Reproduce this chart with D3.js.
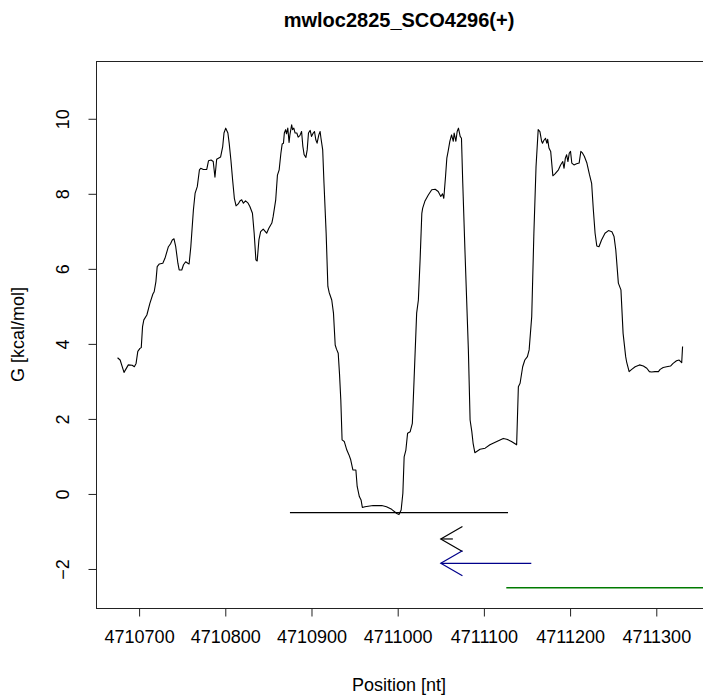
<!DOCTYPE html>
<html>
<head>
<meta charset="utf-8">
<script src="https://cdn.jsdelivr.net/npm/d3@7"></script>
<style>
  html, body { margin: 0; padding: 0; background: #fff; }
  svg { display: block; font-family: "Liberation Sans", Arial, Helvetica, sans-serif; }
</style>
</head>
<body>
<svg id="chart" width="703" height="695"></svg>
<script>
// ---- data ----
const chartTitle = "mwloc2825_SCO4296(+)";
const xLabel = "Position [nt]";
const yLabel = "G [kcal/mol]";

const positions = [
  4710675,4710678,4710682.5,4710687.5,4710692,4710694.5,4710696.5,4710698.5,4710701,4710702.5,
  4710704,4710705.5,4710709,4710712.5,4710716,4710717.5,4710719.5,4710721,4710723.5,4710727.5,
  4710730,4710734,4710736.5,4710738.5,4710740.5,4710742.5,4710745,4710746.5,4710749.5,4710751.5,
  4710754,4710756.5,4710758,4710760,4710763,4710765,4710767.5,4710770,4710771.5,4710774.5,
  4710778.5,4710780.5,4710783.5,4710786,4710788,4710790,4710792,4710794.5,4710797,4710798.5,
  4710800.5,4710803,4710804.5,4710806.5,4710808.5,4710810.5,4710812.5,4710815,4710817,4710819,
  4710821,4710823.5,4710826.5,4710828.5,4710831.5,4710833.5,4710835.5,4710837,4710839,4710841,
  4710844,4710848,4710850.5,4710854,4710855.5,4710858.5,4710860.5,4710862.5,4710864.5,4710866,
  4710867.5,4710868.5,4710870,4710871,4710872.5,4710874,4710875,4710877,4710878,4710879.5,
  4710881,4710883,4710884.5,4710886.5,4710888.5,4710890,4710891.5,4710893.5,4710895,4710896.5,
  4710898.5,4710900,4710902,4710903.5,4710905,4710906.5,4710908.5,4710910,4710911,4710913,
  4710914.5,4710917,4710919,4710920.5,4710923.5,4710925.5,4710927.5,4710929,4710931,4710932.5,
  4710934,4710935.5,4710938,4710941,4710943.5,4710945.5,4710948,4710951.5,4710953,4710955.5,
  4710957.5,4710959,4710962,4710971.5,4710981.5,4710987,4710993,4710999,4711001.5,4711004,
  4711006,4711007.5,4711009.5,4711011.5,4711014.5,4711017,4711019,4711022,4711024,4711026,
  4711028,4711029,4711031.5,4711035.5,4711039.5,4711043.5,4711047,4711050,4711052,4711053.5,
  4711055.5,4711057,4711058.5,4711060.5,4711062.5,4711064.5,4711065.5,4711067.5,4711069,4711070.5,
  4711072.5,4711074,4711075.5,4711078,4711082,4711084,4711086,4711087.5,4711089.5,4711095.5,
  4711101.5,4711107,4711115,4711122.5,4711126.5,4711132,4711138,4711140,4711142,4711145,
  4711147.5,4711150.5,4711152.5,4711155.5,4711158,4711160.5,4711163,4711165,4711167,4711168,
  4711169.5,4711171.5,4711173,4711174,4711175.5,4711177.5,4711180,4711182.5,4711186.5,4711189,
  4711191.5,4711193,4711194.5,4711196,4711197.5,4711199,4711200.5,4711202,4711204.5,4711207.5,
  4711210.5,4711212.5,4711214,4711216.5,4711219.5,4711222.5,4711225,4711227,4711229,4711231,
  4711233.5,4711236.5,4711240.5,4711244.5,4711248.5,4711251,4711253,4711256,4711259,4711261.5,
  4711264.5,4711265.5,4711268.5,4711271.5,4711275.5,4711280.5,4711285,4711289,4711292,4711294.5,
  4711298.5,4711302.5,4711304.5,4711308,4711312,4711316.5,4711319.5,4711323.5,4711326.5,4711329.5,
  4711330.5
];
const gValues = [
  3.63,3.57,3.24,3.44,3.43,3.39,3.48,3.80,3.88,3.90,
  4.46,4.64,4.77,5.08,5.33,5.39,5.66,6.06,6.13,6.15,
  6.28,6.59,6.67,6.77,6.80,6.59,6.15,5.97,5.97,6.11,
  6.19,6.15,6.13,6.59,7.57,8.02,8.19,8.64,8.68,8.65,
  8.65,8.88,8.90,8.86,8.44,8.92,8.95,8.98,9.26,9.62,
  9.75,9.62,9.35,8.90,8.37,7.88,7.68,7.73,7.81,7.84,
  7.75,7.81,7.75,7.66,7.48,6.95,6.24,6.21,6.77,6.99,
  7.06,6.95,7.08,7.22,7.39,7.84,8.50,8.64,9.08,9.33,
  9.35,9.62,9.71,9.60,9.75,9.37,9.58,9.84,9.71,9.75,
  9.62,9.62,9.51,9.55,9.66,9.26,9.04,8.97,9.17,9.62,
  9.69,9.53,9.62,9.66,9.44,9.35,9.57,9.66,9.48,9.17,
  8.28,6.95,5.53,5.37,5.17,4.82,3.97,3.86,3.75,3.20,
  2.51,1.44,1.40,1.17,1.04,0.91,0.64,0.64,0.20,-0.07,
  -0.16,-0.36,-0.34,-0.31,-0.31,-0.34,-0.41,-0.52,-0.55,-0.43,
  0.02,0.99,1.17,1.62,1.66,1.88,3.04,4.82,5.17,6.24,
  7.48,7.62,7.80,7.97,8.11,8.12,8.06,7.93,8.00,7.88,
  8.46,8.95,9.13,9.40,9.57,9.40,9.62,9.40,9.66,9.75,
  9.53,9.48,8.28,6.51,3.84,1.97,1.66,1.35,1.10,1.19,
  1.22,1.31,1.40,1.48,1.46,1.40,1.31,2.86,2.95,3.39,
  3.57,3.66,3.84,4.73,6.95,8.73,9.71,9.66,9.40,9.35,
  9.42,9.48,9.35,9.45,9.22,9.13,8.48,8.53,8.64,8.77,
  8.86,8.68,8.95,9.04,8.86,9.08,9.13,8.82,8.77,8.80,
  8.82,9.13,9.10,9.00,8.82,8.51,8.28,7.57,6.95,6.61,
  6.59,6.77,6.95,7.02,6.99,6.86,6.51,5.62,5.44,4.28,
  3.66,3.53,3.26,3.32,3.39,3.44,3.41,3.35,3.26,3.25,
  3.26,3.26,3.32,3.37,3.39,3.41,3.48,3.55,3.57,3.50,
  3.93
];

const xTicks = [4710700, 4710800, 4710900, 4711000, 4711100, 4711200, 4711300];
const yTicks = [-2, 0, 2, 4, 6, 8, 10];

// reference segment and arrows (start, end, level)
const segStart = [4710875, 4711126];
const segEnd   = [4711128, 4711420];
const segLevel = [-0.5, -2.5];
const segColor = ["#000000", "#007A00"];

const arrowFrom  = [4711064, 4711155];
const arrowTo    = [4711050, 4711050];
const arrowLevel = [-1.2, -1.85];
const arrowColor = ["#000000", "#00008B"];

// ---- layout ----
const plotL = 96, plotR = 708, plotT = 61, plotB = 608;

const svg = d3.select("#chart");

const x = d3.scaleLinear().domain([4710650, 4711360]).range([plotL, plotR]);
const y = d3.scaleLinear().domain([-3.04, 11.54]).range([plotB, plotT]);

svg.append("defs").append("clipPath").attr("id", "clip")
  .append("rect").attr("x", plotL).attr("y", plotT)
  .attr("width", plotR - plotL).attr("height", plotB - plotT);

// title
svg.append("text")
  .attr("x", 399).attr("y", 27)
  .attr("text-anchor", "middle")
  .attr("font-size", 20).attr("font-weight", "bold")
  .text(chartTitle);

// box
svg.append("rect")
  .attr("x", plotL + 0.5).attr("y", plotT + 0.5)
  .attr("width", plotR - plotL).attr("height", plotB - plotT)
  .attr("fill", "none").attr("stroke", "#222").attr("stroke-width", 1);

// x axis
const xAxis = d3.axisBottom(x).tickValues(xTicks).tickSize(8).tickPadding(14)
  .tickFormat(d3.format("d"));
const gx = svg.append("g").attr("transform", `translate(0,${plotB + 0.5})`).call(xAxis);
gx.select(".domain").remove();
gx.selectAll(".tick line").attr("stroke", "#222");
gx.selectAll(".tick text").attr("font-size", 18).attr("fill", "#000")
  .attr("font-family", "Liberation Sans, Arial, sans-serif");

// y axis
const yAxis = d3.axisLeft(y).tickValues(yTicks).tickSize(8).tickFormat(d => d < 0 ? "\u2212" + Math.abs(d) : d);
const gy = svg.append("g").attr("transform", `translate(${plotL + 0.5},0)`).call(yAxis);
gy.select(".domain").remove();
gy.selectAll(".tick line").attr("stroke", "#222");
gy.selectAll(".tick text")
  .attr("font-size", 18).attr("fill", "#000")
  .attr("font-family", "Liberation Sans, Arial, sans-serif")
  .attr("x", null).attr("dy", null)
  .attr("text-anchor", "middle")
  .attr("transform", "translate(-27.5,0) rotate(-90)")
  .attr("y", 0);

// axis titles
svg.append("text")
  .attr("x", 399).attr("y", 691)
  .attr("text-anchor", "middle").attr("font-size", 18)
  .text(xLabel);
svg.append("text")
  .attr("transform", `translate(24,${(plotT + plotB) / 2}) rotate(-90)`)
  .attr("text-anchor", "middle").attr("font-size", 18)
  .text(yLabel);

const plot = svg.append("g").attr("clip-path", "url(#clip)");

// main curve
const pts = positions.map((p, i) => [p, gValues[i]]);
plot.append("path")
  .datum(pts)
  .attr("fill", "none").attr("stroke", "#000").attr("stroke-width", 1.1)
  .attr("stroke-linejoin", "round")
  .attr("d", d3.line().x(d => x(d[0])).y(d => y(d[1])));

// segments
segStart.forEach((s, i) => {
  plot.append("line")
    .attr("x1", x(s)).attr("x2", x(segEnd[i]))
    .attr("y1", y(segLevel[i])).attr("y2", y(segLevel[i]))
    .attr("stroke", segColor[i]).attr("stroke-width", 1.3);
});

// arrows (R-style open heads)
const headLen = 25, headAng = Math.PI / 6;
arrowFrom.forEach((f, i) => {
  const x0 = x(f), x1 = x(arrowTo[i]), yy = y(arrowLevel[i]);
  const g = plot.append("g").attr("stroke", arrowColor[i]).attr("stroke-width", 1.2).attr("fill", "none");
  g.append("line").attr("x1", x0).attr("x2", x1).attr("y1", yy).attr("y2", yy);
  const dir = Math.sign(x0 - x1);
  const hx = x1 + dir * headLen * Math.cos(headAng);
  g.append("path").attr("d",
    `M${hx},${yy - headLen * Math.sin(headAng)}L${x1},${yy}L${hx},${yy + headLen * Math.sin(headAng)}`);
});
</script>
</body>
</html>
